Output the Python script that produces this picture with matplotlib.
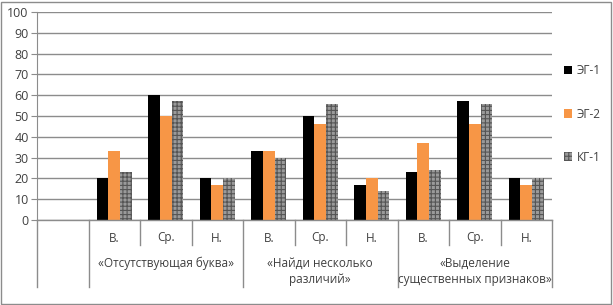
import matplotlib.pyplot as plt
import numpy as np
from matplotlib.patches import Rectangle
from matplotlib.transforms import blended_transform_factory

plt.rcParams['font.family'] = ['Open Sans', 'DejaVu Sans']
plt.rcParams['hatch.linewidth'] = 0.8

# data: first category slot is left empty, as in the original
sub_labels = ["", "В.", "Ср.", "Н.", "В.", "Ср.", "Н.", "В.", "Ср.", "Н."]
groups = ["«Отсутствующая буква»", "«Найди несколько\nразличий»",
          "«Выделение\nсущественных признаков»"]
series = ["ЭГ-1", "ЭГ-2", "КГ-1"]
eg1 = [np.nan, 20, 60, 20, 33, 50, 17, 23, 57, 20]
eg2 = [np.nan, 33, 50, 17, 33, 46, 20, 37, 46, 17]
kg1 = [np.nan, 23, 57, 20, 30, 56, 14, 24, 56, 20]

W, H = 613, 305
fs = 8.5
txt = "#404040"
grey = "#8c8c8c"

fig = plt.figure(figsize=(W / 100, H / 100), dpi=100)
ax = fig.add_axes([37 / W, 1 - 220 / H, 515 / W, 208 / H])

x = np.arange(len(sub_labels))
bw = 0.225
ax.bar(x - bw, eg1, bw, color="black", label=series[0], zorder=3)
ax.bar(x, eg2, bw, color="#F79646", label=series[1], zorder=3)
ax.bar(x + bw, kg1, bw, color="#9a9a9a", edgecolor="#555555", linewidth=0,
       hatch="++++", label=series[2], zorder=3)

ax.set_xlim(-0.5, len(sub_labels) - 0.5)
ax.set_ylim(0, 100)
ax.set_yticks(range(0, 101, 10))
ax.grid(axis="y", color=grey, linewidth=1, zorder=0)
for s in ["top", "right", "bottom"]:
    ax.spines[s].set_visible(False)
ax.spines["left"].set_color(grey)
ax.tick_params(axis="y", length=4, color=grey, labelsize=fs + 0.5,
               labelcolor=txt, pad=2)
ax.set_xticks([])

trans = blended_transform_factory(ax.transData, ax.transAxes)
ax.plot([-0.5, 9.5], [0, 0], transform=trans, color=grey, lw=1,
        clip_on=False, zorder=4)
# category dividers
for b in np.arange(-0.5, 10, 1.0):
    if b in (-0.5, 0.5, 3.5, 6.5, 9.5):
        y_end = -67 / 208
    else:
        y_end = -25 / 208
    ax.plot([b, b], [0, y_end], transform=trans, color=grey, lw=1,
            clip_on=False)
for i, lab in enumerate(sub_labels):
    ax.text(i, -18 / 208, lab, transform=trans, ha="center", va="center",
            fontsize=fs, color=txt)
for g, lab in enumerate(groups):
    cx = 2 + 3 * g
    for k, line in enumerate(lab.split("\n")):
        ax.text(cx, (-43 - 17 * k) / 208, line, transform=trans,
                ha="center", va="center", fontsize=fs, color=txt)

fig.legend(loc="center left", bbox_to_anchor=(553 / W, 1 - 114 / H),
           frameon=False, labelspacing=2.55, handlelength=0.7,
           handleheight=0.7, handletextpad=0.4, fontsize=fs,
           labelcolor=txt)

fig.patches.append(Rectangle((1 / W, 1 / H), 1 - 3 / W, 1 - 3 / H,
                             transform=fig.transFigure, fill=False,
                             edgecolor=grey, lw=1))

fig.savefig("out.png", dpi=100)
